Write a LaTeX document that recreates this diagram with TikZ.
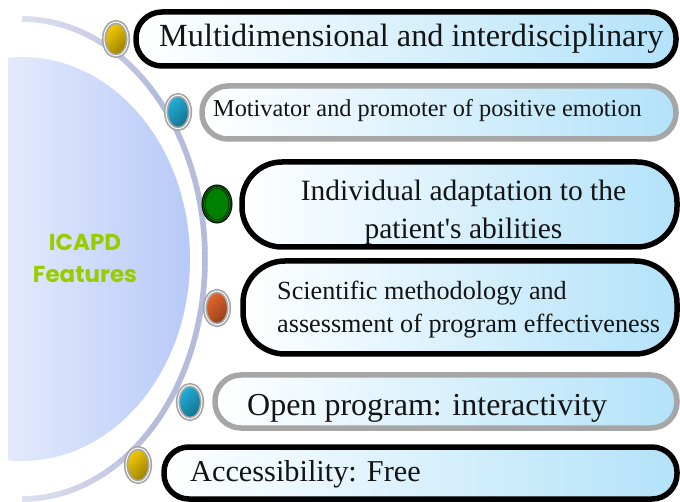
\documentclass[tikz,border=0pt]{standalone}
\usepackage{fontspec}
\setmainfont{Liberation Serif}
\newfontfamily\featfont{Poppins}
\usetikzlibrary{shapes.geometric}

\definecolor{discL}{HTML}{E3EAFC}
\definecolor{discR}{HTML}{B7C9F8}
\definecolor{arcblue}{HTML}{B3BCDB}
\definecolor{pillblue}{HTML}{B3E2F9}
\definecolor{ringgray}{HTML}{A6A6A6}
\definecolor{featgreen}{HTML}{99CC00}
\definecolor{dotyellow}{HTML}{F6CC00}
\definecolor{dotblue}{HTML}{22B2DE}
\definecolor{dotorange}{HTML}{E8662C}
\definecolor{dotgreen}{HTML}{008000}

\tikzset{
  pill/.style={rounded corners=#1, draw=black, line width=5.5pt, inner sep=0pt,
    left color=white, middle color=pillblue!25!white, right color=pillblue},
  pill/.default=26pt,
  greypill/.style={pill=#1, draw=ringgray},
  greypill/.default=26pt,
  knob/.style={ellipse, minimum width=24pt, minimum height=34pt, inner sep=0pt,
    draw=ringgray, line width=1.7pt, double=white, double distance=0.9pt,
    top color=#1, bottom color=#1!62!black, shading angle=45},
  arcline/.style={line width=5.5pt},
  txt/.style={inner sep=0pt, text=black!92}
}

\begin{document}
\begin{tikzpicture}[x=1pt,y=-1pt]
\useasboundingbox (0,0) rectangle (680,502);

\coordinate (C) at (22,259);

\begin{scope}
\clip (C) ellipse [x radius=168, y radius=202];
\shade[left color=discL, right color=discR] (8,40) rectangle (192,480);
\end{scope}

\draw[arcline, arcblue!45!white] (C) ++(-90:183 and 240) arc[start angle=-90, end angle=90, x radius=183, y radius=240];
\foreach \t in {-90,-86,...,86}{
  \pgfmathtruncatemacro{\m}{100-min(55,max(0,(abs(\t+2)-45)*1.25))}
  \draw[arcline, arcblue!\m!white] (C) ++(\t:183 and 240) arc[start angle=\t, end angle=\t+4, x radius=183, y radius=240];
}

\node[txt, text=featgreen, align=center, font=\featfont\bfseries\fontsize{23}{32}\selectfont] (feat) at (85,258.5) {ICAPD\\Features};

\node[pill, minimum width=540pt, minimum height=54pt] (b1) at (406,39) {};
\node[greypill, minimum width=474pt, minimum height=53pt] (b2) at (439,112.5) {};
\node[pill=40pt, minimum width=435pt, minimum height=85pt] (b3) at (459.5,204.5) {};
\node[pill=42pt, minimum width=434pt, minimum height=93pt] (b4) at (460,307.5) {};
\node[greypill, minimum width=462pt, minimum height=53pt] (b5) at (446,401.5) {};
\node[pill=25pt, minimum width=513pt, minimum height=52pt] (b6) at (420.5,473) {};

\node[txt, anchor=base west, font=\fontsize{32.3}{38}\selectfont] (t1) at (159,47) {Multidimensional and interdisciplinary};
\node[txt, anchor=base west, font=\fontsize{24.3}{29}\selectfont] (t2) at (213,117) {Motivator and promoter of positive emotion};
\node[txt, align=center, font=\fontsize{29.5}{38}\selectfont] (t3) at (463.5,212) {Individual adaptation to the\\patient\textquotesingle s abilities};
\node[txt, anchor=west, align=left, font=\fontsize{26.2}{33}\selectfont] (t4) at (277,309.4) {Scientific methodology and\\assessment of program effectiveness};
\node[txt, anchor=base west, font=\fontsize{32}{38}\selectfont] (t5) at (247,415) {Open program: interactivity};
\node[txt, anchor=base west, font=\fontsize{30.3}{36}\selectfont] (t6) at (190,481) {Accessibility: Free};

\node[knob=dotyellow] (d1) at (116,39) {};
\node[knob=dotblue] (d2) at (178,112) {};
\node[ellipse, minimum width=30pt, minimum height=38pt, inner sep=0pt, fill=dotgreen, draw=black, line width=1pt] (d3) at (217,204) {};
\foreach \k in {1.6,3.2}
  \draw[line width=0.45pt] (d3.center) ellipse [x radius=15-\k, y radius=19-\k];
\node[knob=dotorange] (d4) at (217,308) {};
\node[knob=dotblue] (d5) at (190,402) {};
\node[knob=dotyellow] (d6) at (138,465) {};
\end{tikzpicture}
\end{document}
